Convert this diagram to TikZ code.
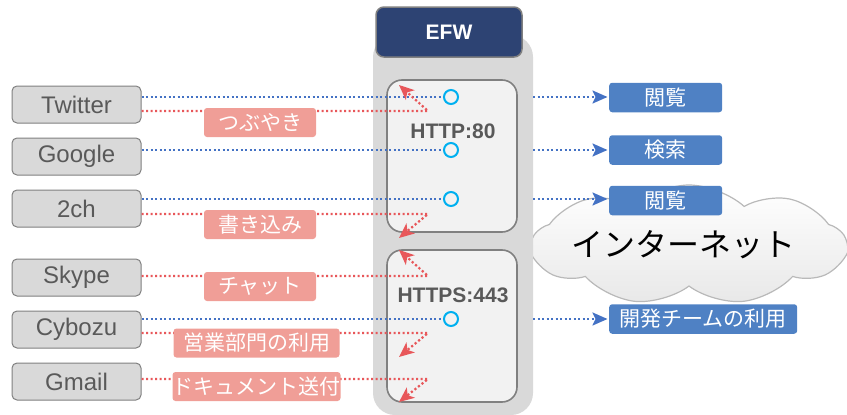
\documentclass[tikz,border=0pt]{standalone}
\usepackage{fontspec}
\setmainfont{Liberation Sans}
\newfontfamily\jp{Noto Sans CJK JP}
\usetikzlibrary{positioning,shapes.symbols,arrows.meta}

\definecolor{boxgray}{HTML}{D9D9D9}
\definecolor{edgegray}{HTML}{808080}
\definecolor{textgray}{HTML}{595959}
\definecolor{innergray}{HTML}{F2F2F2}
\definecolor{efwnavy}{HTML}{2D4373}
\definecolor{salmon}{HTML}{F09E97}
\definecolor{linered}{HTML}{E8575A}
\definecolor{lineblue}{HTML}{4472C4}
\definecolor{portcyan}{HTML}{00B0F0}
\definecolor{destblue}{HTML}{4F81C4}

\begin{document}
\begin{tikzpicture}[x=1pt, y=-1pt, node distance=14pt,
  site node/.style={draw=edgegray, fill=boxgray, line width=1pt, rounded corners=5pt, minimum width=129pt, minimum height=37pt, inner sep=0pt, text=textgray, font=\fontsize{24}{24}\selectfont},
  note node/.style={fill=salmon, rounded corners=3pt, minimum height=29pt, inner sep=0pt, text=white, font=\jp\fontsize{21}{21}\selectfont},
  dest node/.style={fill=destblue, rounded corners=3pt, minimum height=29.5pt, inner sep=0pt, anchor=west, text=white, font=\jp\fontsize{21}{21}\selectfont},
  port node/.style={circle, draw=portcyan, line width=2pt, minimum size=14pt, inner sep=0pt},
  proto node/.style={draw=edgegray, fill=innergray, line width=1.6pt, rounded corners=15pt, minimum width=130pt, minimum height=152pt},
  proto text/.style={text=textgray, font=\bfseries\fontsize{21}{21}\selectfont},
  blue line/.style={draw=lineblue, line width=2.2pt, dash pattern=on 2.2pt off 2.3pt},
  red line/.style={draw=linered, line width=2.2pt, dash pattern=on 2.2pt off 2.3pt, -{Stealth[length=15pt,width=13pt,inset=4pt]}}]

  \useasboundingbox (0,0) rectangle (847,415);

  % internet
  \node[cloud, cloud puffs=9, cloud puff arc=85, aspect=2.6, draw=gray!55, line width=1.2pt, top color=white, bottom color=black!9, minimum width=314pt, minimum height=120pt, inner sep=0pt] (net) at (689,245) {};
  \node[font=\jp\fontsize{32}{32}\selectfont] (nettext) at (683,245) {インターネット};

  % firewall
  \node[fill=boxgray, rounded corners=22pt, minimum width=160pt, minimum height=380pt] (col) at (453,225) {};
  \node[draw=edgegray, fill=efwnavy, line width=1.5pt, rounded corners=8pt, minimum width=146pt, minimum height=50pt, text=white, font=\bfseries\fontsize{21}{21}\selectfont] (efw) at (449,32) {EFW};
  \node[proto node] (http) at (452,156) {};
  \node[proto node] (https) at (452,326) {};
  \node[proto text] (httplbl) at (453,131) {HTTP:80};
  \node[proto text] (httpslbl) at (453,295) {HTTPS:443};

  % sites
  \node[site node] (tw) at (76.5,104.5) {Twitter};
  \node[site node] (gg) [below=of tw] {Google};
  \node[site node] (ch) [below=of gg] {2ch};
  \node[site node] (sk) [below=31pt of ch] {Skype};
  \node[site node] (cy) [below=of sk] {Cybozu};
  \node[site node] (gm) [below=of cy] {Gmail};

  % ports
  \node[port node] (p1) at (451,97) {};
  \node[port node] (p2) at (451,150) {};
  \node[port node] (p3) at (451,199) {};
  \node[port node] (p4) at (451,319) {};

  \draw[blue line] (tw.east |- p1) -- (p1);
  \draw[blue line] (gg.east |- p2) -- (p2);
  \draw[blue line] (ch.east |- p3) -- (p3);
  \draw[blue line] (cy.east |- p4) -- (p4);

  % blocked
  \coordinate (r1) at (428,111);   \coordinate (t1) at (399,85);
  \coordinate (r2) at (428,214);   \coordinate (t2) at (399,238);
  \coordinate (r3) at (428,276);   \coordinate (t3) at (399,250);
  \coordinate (r4) at (428,333);   \coordinate (t4) at (399,357);
  \coordinate (r5) at (428,379);   \coordinate (t5) at (399,402);

  \draw[red line] (tw.east |- r1) -- (r1) -- (t1);
  \draw[red line] (ch.east |- r2) -- (r2) -- (t2);
  \draw[red line] (sk.east |- r3) -- (r3) -- (t3);
  \draw[red line] (cy.east |- r4) -- (r4) -- (t4);
  \draw[red line] (gm.east |- r5) -- (r5) -- (t5);

  \node[note node, minimum width=112pt] (n1) at (260,122.5) {つぶやき};
  \node[note node, minimum width=112pt] (n2) at (260,224.5) {書き込み};
  \node[note node, minimum width=112pt] (n3) at (260,286.5) {チャット};
  \node[note node, minimum width=166pt] (n4) at (256.5,343) {営業部門の利用};
  \node[note node, minimum width=166pt] (n5) at (256.5,386.5) {ドキュメント送付};

  % allowed
  \node[dest node, minimum width=113pt] (v1) at (609,97.5) {閲覧};
  \node[dest node, minimum width=113pt] (v2) at (609,150) {検索};
  \node[dest node, minimum width=113pt] (v3) at (609,200.5) {閲覧};
  \node[dest node, minimum width=188pt] (v4) at (609,319) {開発チームの利用};

  \draw[blue line, -{Stealth[length=15pt,width=13pt,inset=3pt]}, shorten >=1.5pt] (col.east |- p1) -- (p1 -| v1.west);
  \draw[blue line, -{Stealth[length=15pt,width=13pt,inset=3pt]}, shorten >=1.5pt] (col.east |- p2) -- (p2 -| v2.west);
  \draw[blue line, -{Stealth[length=15pt,width=13pt,inset=3pt]}, shorten >=1.5pt] (col.east |- p3) -- (p3 -| v3.west);
  \draw[blue line, -{Stealth[length=15pt,width=13pt,inset=3pt]}, shorten >=1.5pt] (col.east |- p4) -- (p4 -| v4.west);
\end{tikzpicture}
\end{document}
